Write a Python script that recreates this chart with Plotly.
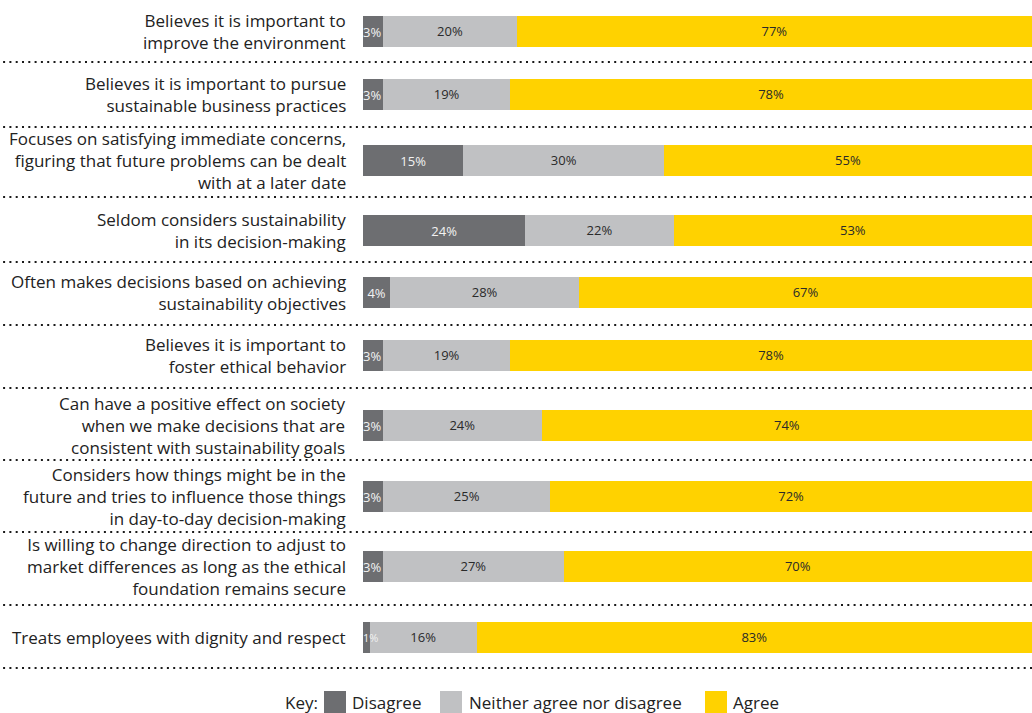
import plotly.graph_objects as go

statements = [
    "Believes it is important to<br>improve the environment",
    "Believes it is important to pursue<br>sustainable business practices",
    "Focuses on satisfying immediate concerns,<br>figuring that future problems can be dealt<br>with at a later date",
    "Seldom considers sustainability<br>in its decision-making",
    "Often makes decisions based on achieving<br>sustainability objectives",
    "Believes it is important to<br>foster ethical behavior",
    "Can have a positive effect on society<br>when we make decisions that are<br>consistent with sustainability goals",
    "Considers how things might be in the<br>future and tries to influence those things<br>in day-to-day decision-making",
    "Is willing to change direction to adjust to<br>market differences as long as the ethical<br>foundation remains secure",
    "Treats employees with dignity and respect",
]
disagree = [3, 3, 15, 24, 4, 3, 3, 3, 3, 1]
neither = [20, 19, 30, 22, 28, 19, 24, 25, 27, 16]
agree = [77, 78, 55, 53, 67, 78, 74, 72, 70, 83]
series_names = ["Disagree", "Neither agree nor disagree", "Agree"]

# layout (pixel positions of rows, in a reversed pixel-like y axis)
row_centers = [31, 94, 160, 230, 292, 355, 425, 496, 566, 637]
separators = [62, 127, 197, 262, 325, 388, 460, 532, 605, 668]
colors = ["#6d6e71", "#c0c1c3", "#ffd200"]
text_colors = ["#f2f2f2", "#2a2a2a", "#2a2a2a"]
FONT = "Open Sans"
LABEL_SIZE = 17
W, H = 1032, 713
x0_frac = 363 / W

fig = go.Figure()
for i, (vals, name, col, tcol) in enumerate(zip([disagree, neither, agree], series_names, colors, text_colors)):
    fig.add_trace(go.Bar(
        x=vals, y=row_centers, orientation="h", name=name,
        marker=dict(color=col, line=dict(width=0)),
        width=31,
        text=None if i == 0 else [f"{v}%" for v in vals],
        textposition="none" if i == 0 else "inside",
        insidetextanchor="middle", textangle=0,
        textfont=dict(family=FONT, size=13, color=tcol),
        showlegend=False, hoverinfo="x+name",
    ))

# disagree labels drawn on top so that they may overflow their narrow bars
totals = [d + n + a for d, n, a in zip(disagree, neither, agree)]
narrow = [d / t * 100 < 3.5 for d, t in zip(disagree, totals)]
fig.add_trace(go.Scatter(
    x=[0 if nw else d / t * 100 / 2 for d, t, nw in zip(disagree, totals, narrow)],
    y=[yc + 2.5 for yc in row_centers],
    mode="text", text=[f"{v}%" for v in disagree],
    textposition=["middle right" if nw else "middle center" for nw in narrow],
    textfont=dict(family=FONT, size=[11 if v < 2 else 13 for v in disagree], color=text_colors[0]),
    showlegend=False, hoverinfo="skip", cliponaxis=False,
))

for ys in separators:
    fig.add_shape(type="line", xref="paper", yref="y", x0=0.003, x1=1, y0=ys, y1=ys,
                  line=dict(color="#1a1a1a", width=1.8, dash="2px,4.3px"))

for lab, yc in zip(statements, row_centers):
    fig.add_annotation(xref="paper", yref="y", x=348 / W, y=yc, text=lab,
                       xanchor="right", yanchor="middle", align="right", showarrow=False,
                       font=dict(family=FONT, size=LABEL_SIZE, color="#222222"))

# manual key
fig.add_annotation(xref="paper", yref="y", x=320 / W, y=702, text="Key:", xanchor="right",
                   yanchor="middle", showarrow=False, font=dict(family=FONT, size=LABEL_SIZE, color="#222222"))
key_pos = [(324, 350), (440, 467), (705, 731)]
for (sx, tx), name, col in zip(key_pos, series_names, colors):
    fig.add_shape(type="rect", xref="paper", yref="y", x0=sx / W, x1=(sx + 22) / W, y0=691, y1=713,
                  fillcolor=col, line=dict(width=0))
    fig.add_annotation(xref="paper", yref="y", x=tx / W, y=702, text=name, xanchor="left",
                       yanchor="middle", showarrow=False, font=dict(family=FONT, size=LABEL_SIZE, color="#222222"))

fig.update_layout(
    width=W, height=H, barmode="stack", barnorm="percent",
    margin=dict(l=0, r=0, t=0, b=0),
    plot_bgcolor="white", paper_bgcolor="white",
    xaxis=dict(domain=[x0_frac, 1], range=[0, 100], visible=False, fixedrange=True),
    yaxis=dict(range=[H, 0], visible=False, fixedrange=True),
    font=dict(family=FONT),
)
fig.write_html("out.html", config={"displayModeBar": False},
               post_script="document.body.style.margin='0';document.body.style.overflow='hidden';")
